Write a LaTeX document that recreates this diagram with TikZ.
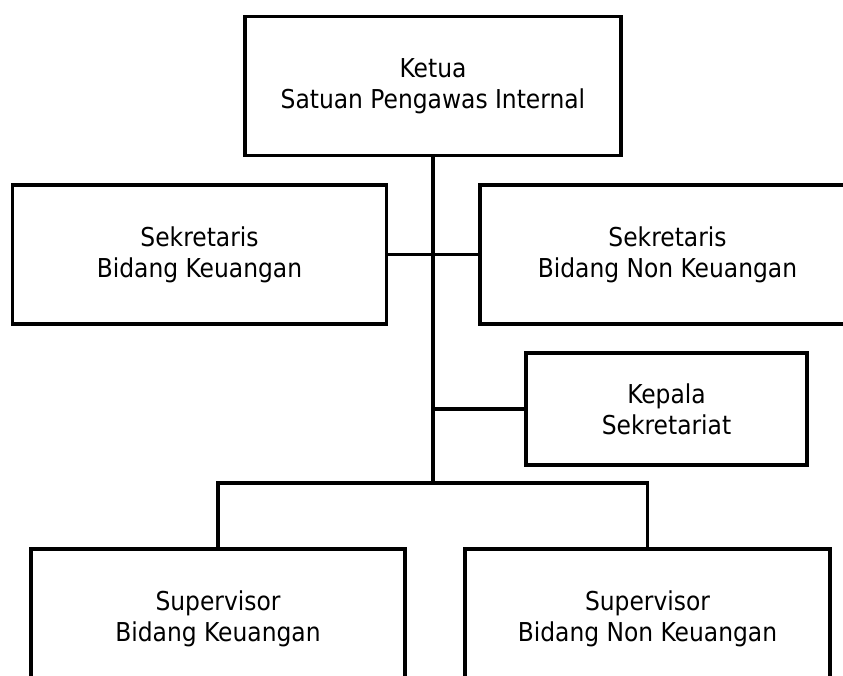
\documentclass[tikz,border=0pt]{standalone}
\usepackage{fontspec}
\setmainfont{DejaVu Sans Condensed}
\tikzset{
  jabatan/.style={draw,line width=3.2pt,align=center,inner sep=0pt,
    font=\fontsize{26}{31}\selectfont},
  garis/.style={line width=3.2pt}
}
\begin{document}
\begin{tikzpicture}[x=1pt,y=-1pt]
\useasboundingbox (0,0) rectangle (843,675);
\clip (0,0) rectangle (843,675);
\node[jabatan,minimum width=376,minimum height=139] (ketua) at (433,86) {Ketua\\Satuan Pengawas Internal};
\node[jabatan,minimum width=374,minimum height=139] (sekkeu) at (199.5,254.5) {Sekretaris\\Bidang Keuangan};
\node[jabatan,minimum width=375,minimum height=139] (seknon) at (667.5,254.5) {Sekretaris\\Bidang Non Keuangan};
\node[jabatan,minimum width=281,minimum height=112] (kepala) at (666.5,409) {Kepala\\Sekretariat};
\node[jabatan,minimum width=374,minimum height=139] (supkeu) at (218,618.5) {Supervisor\\Bidang Keuangan};
\node[jabatan,minimum width=365,minimum height=139] (supnon) at (647.5,618.5) {Supervisor\\Bidang Non Keuangan};
\coordinate (cabang) at (433,483);
\draw[garis] (ketua.south) -- (cabang);
\draw[garis] (sekkeu.east) -- (seknon.west);
\draw[garis] (kepala.west) -- (kepala.west -| cabang);
\draw[garis] (supkeu.north) |- (cabang) -| (supnon.north);
\end{tikzpicture}
\end{document}
